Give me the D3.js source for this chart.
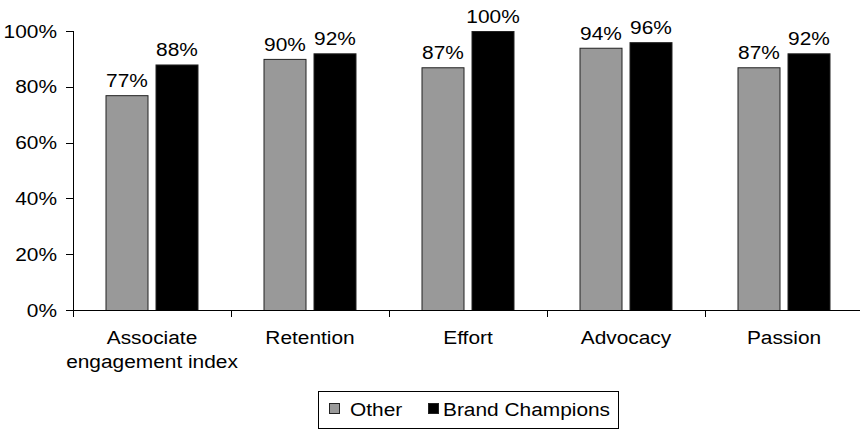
<!DOCTYPE html>
<html>
<head>
<meta charset="utf-8">
<script src="https://cdn.jsdelivr.net/npm/d3@7"></script>
<style>
  html, body { margin: 0; padding: 0; background: #fff; }
  svg { display: block; }
  text { font-family: "Liberation Sans", Arial, Helvetica, sans-serif; fill: #000; }
</style>
</head>
<body>
<svg id="chart" width="860" height="431"></svg>
<script>
const categories = [["Associate", "engagement index"], ["Retention"], ["Effort"], ["Advocacy"], ["Passion"]];
const categoryKeys = ["Associate engagement index", "Retention", "Effort", "Advocacy", "Passion"];
const seriesNames = ["Other", "Brand Champions"];
const otherValues = [77, 90, 87, 94, 87];
const championValues = [88, 92, 100, 96, 92];
const yTicks = [0, 20, 40, 60, 80, 100];
const seriesColors = ["#999999", "#000000"];

const svg = d3.select("#chart");
const FS = 18, SX = 1.16;

function label(parent, x, y, str, anchor) {
  parent.append("g")
    .attr("transform", `translate(${x},${y}) scale(${SX},1)`)
    .append("text")
    .attr("text-anchor", anchor || "middle")
    .attr("font-size", FS)
    .text(str);
}

const plotL = 73, plotR = 863, plotT = 31, plotB = 310;

const x0 = d3.scaleBand().domain(categoryKeys).range([plotL, plotR]).paddingInner(0).paddingOuter(0);
const groupW = 93;
const x1 = d3.scaleBand().domain(seriesNames).range([0, groupW]).paddingInner(0.14).paddingOuter(0);
const y = d3.scaleLinear().domain([0, 100]).range([plotB, plotT]);

// bars
const data = categoryKeys.map((k, i) => ({ key: k, values: [otherValues[i], championValues[i]] }));
const groups = svg.append("g").selectAll("g").data(data).join("g")
  .attr("transform", d => `translate(${x0(d.key) + (x0.bandwidth() - groupW) / 2},0)`);

groups.each(function(d) {
  const g = d3.select(this);
  d.values.forEach((v, j) => {
    const s = seriesNames[j];
    g.append("rect")
      .attr("x", x1(s) + 0.5)
      .attr("y", y(v) + 0.5)
      .attr("width", x1.bandwidth() - 1)
      .attr("height", plotB - y(v))
      .attr("fill", seriesColors[j])
      .attr("stroke", "#222")
      .attr("stroke-width", 1);
    label(g, x1(s) + x1.bandwidth() / 2, y(v) - 8, v + "%", "middle");
  });
});

// y axis
const yAxis = svg.append("g");
yAxis.append("line")
  .attr("x1", plotL + 0.5).attr("x2", plotL + 0.5)
  .attr("y1", y(100)).attr("y2", plotB + 7)
  .attr("stroke", "#000");
yTicks.forEach(t => {
  yAxis.append("line")
    .attr("x1", plotL - 7).attr("x2", plotL)
    .attr("y1", Math.round(y(t)) + 0.5).attr("y2", Math.round(y(t)) + 0.5)
    .attr("stroke", "#000");
  label(yAxis, 57, y(t) + 6.5, t + "%", "end");
});

// x axis
const xAxis = svg.append("g");
xAxis.append("line")
  .attr("x1", plotL).attr("x2", 860)
  .attr("y1", plotB + 0.5).attr("y2", plotB + 0.5)
  .attr("stroke", "#000");
categoryKeys.forEach((k, i) => {
  const bx = Math.round(x0(k)) + 0.5;
  xAxis.append("line")
    .attr("x1", bx).attr("x2", bx)
    .attr("y1", plotB).attr("y2", plotB + 7)
    .attr("stroke", "#000");
  const cx = x0(k) + x0.bandwidth() / 2;
  categories[i].forEach((line, li) => {
    label(xAxis, cx, 344 + li * 24, line, "middle");
  });
});

// legend
const lg = svg.append("g");
lg.append("rect")
  .attr("x", 318.5).attr("y", 391.5).attr("width", 300).attr("height", 37)
  .attr("fill", "#fff").attr("stroke", "#000");
const legendItems = [{ sx: 329, tx: 350 }, { sx: 428, tx: 443 }];
seriesNames.forEach((s, i) => {
  lg.append("rect")
    .attr("x", legendItems[i].sx + 0.5).attr("y", 403.5)
    .attr("width", 10).attr("height", 10)
    .attr("fill", seriesColors[i]).attr("stroke", "#222");
  label(lg, legendItems[i].tx, 415.5, s, "start");
});
</script>
</body>
</html>
